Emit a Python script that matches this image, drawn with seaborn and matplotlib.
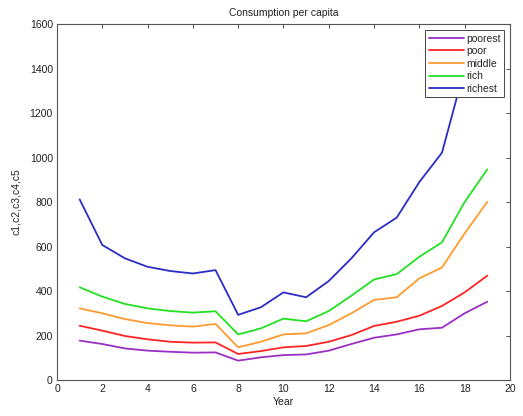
import matplotlib
matplotlib.use("Agg")
import matplotlib.pyplot as plt
import seaborn as sns
import pandas as pd

years = list(range(1, 20))
poorest = [177, 162, 142, 132, 127, 123, 124, 87, 102, 112, 115, 132, 162, 190, 205, 228, 235, 300, 352]
poor = [244, 222, 198, 183, 172, 168, 169, 117, 130, 147, 153, 172, 202, 243, 262, 289, 333, 394, 469]
middle = [322, 300, 274, 256, 246, 240, 252, 147, 172, 205, 210, 247, 300, 360, 372, 457, 506, 659, 801]
rich = [417, 375, 342, 322, 310, 303, 309, 205, 232, 276, 264, 310, 379, 452, 476, 554, 619, 800, 947]
richest = [812, 607, 547, 509, 490, 479, 494, 293, 327, 394, 372, 445, 547, 664, 730, 890, 1022, 1400, 1540]

groups = ["poorest", "poor", "middle", "rich", "richest"]
colors = ["#9a2fc4", "#ff2424", "#ff9a2e", "#22e022", "#2c2cc6"]

series = [poorest, poor, middle, rich, richest]
df = pd.DataFrame({
    "Year": years * len(groups),
    "value": [v for s in series for v in s],
    "group": [g for g in groups for _ in years],
})

sns.set_theme(style="white")
plt.rcParams["font.family"] = ["Liberation Sans", "DejaVu Sans"]

fig = plt.figure(figsize=(5.23, 4.16), dpi=100)
ax = fig.add_axes([0.109, 0.0865, 0.866, 0.8555])

sns.lineplot(data=df, x="Year", y="value", hue="group", hue_order=groups,
             palette=colors, linewidth=1.3, ax=ax, legend=True)

ax.set_xlim(0, 20)
ax.set_ylim(0, 1600)
ax.set_xticks(range(0, 21, 2))
ax.set_yticks(range(0, 1601, 200))
ax.tick_params(direction="in", length=3, width=0.6, labelsize=7.5,
               top=True, right=True, colors="#333333", labelcolor="#222222", pad=3)
for s in ax.spines.values():
    s.set_color("#555555")
    s.set_linewidth(0.8)
ax.set_xlabel("Year", fontsize=7.5, labelpad=2, color="#222222")
ax.set_ylabel("c1,c2,c3,c4,c5", fontsize=7.5, labelpad=6, color="#222222")
ax.set_title("Consumption per capita", fontsize=7.5, pad=6, color="#222222")

leg = ax.legend(loc="upper right", fontsize=7.5, frameon=True, fancybox=False,
                edgecolor="#444444", framealpha=1, handlelength=3.4,
                borderpad=0.3, labelspacing=0.25, handletextpad=0.2,
                borderaxespad=0.6)
leg.get_frame().set_linewidth(0.7)

fig.savefig("out.png", dpi=100, facecolor="white")
